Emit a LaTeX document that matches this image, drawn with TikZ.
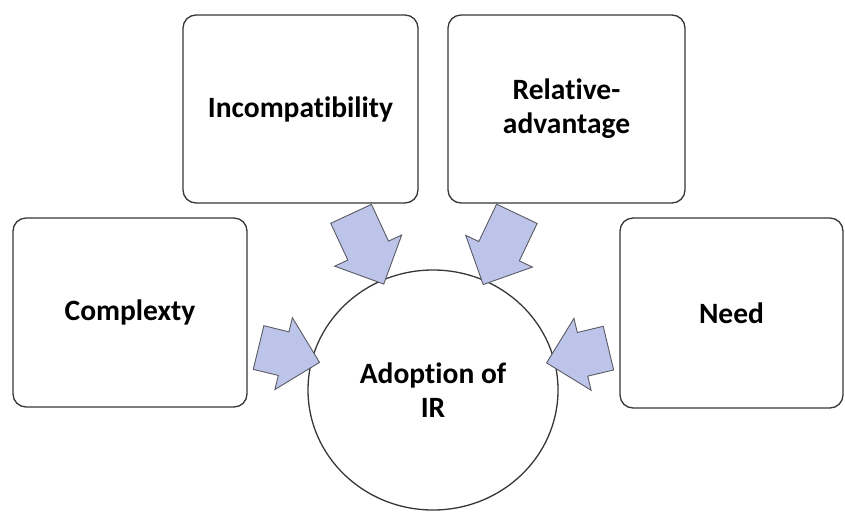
\documentclass[tikz,border=0pt]{standalone}
\usepackage{fontspec}
\setmainfont{Carlito}[Ligatures=NoCommon]
\usetikzlibrary{calc,shapes.arrows,shapes.geometric}
\definecolor{arrowfill}{RGB}{188,197,233}
\definecolor{arrowline}{RGB}{90,90,100}
\definecolor{boxline}{RGB}{55,55,55}
\begin{document}
\begin{tikzpicture}[x=1pt,y=-1pt,
  factor/.style={draw=boxline, line width=1.3pt, rounded corners=13pt, fill=white,
    font=\bfseries\fontsize{29.5}{34}\selectfont, align=center, inner sep=0pt},
  goal/.style={ellipse, draw=boxline, line width=1.3pt, fill=white,
    font=\bfseries\fontsize{29.5}{34}\selectfont, align=center, inner sep=0pt,
    minimum width=250pt, minimum height=240pt},
  blockarrow/.style={single arrow, draw=arrowline, fill=arrowfill, line width=0.9pt,
    minimum width=0pt, single arrow head extend=14.5pt, single arrow head indent=0pt,
    inner xsep=0pt, inner ysep=22pt, outer sep=0pt}]
\useasboundingbox (0,0) rectangle (845,512);
\node[factor, minimum width=234pt, minimum height=189pt] (cpx) at (130,312.5) {Complexty};
\node[factor, minimum width=235pt, minimum height=188pt] (inc) at (300.5,109) {Incompatibility};
\node[factor, minimum width=237pt, minimum height=188pt] (rel) at (566.5,109) {Relative-\\advantage};
\node[factor, minimum width=223pt, minimum height=190pt] (need) at (731.5,313) {Need};
\node[goal] (adopt) at (433,390) {Adoption of\\IR};
\coordinate (sInc) at ($(inc.south west)!0.694!(inc.south east)$);
\coordinate (sRel) at ($(rel.south west)!0.312!(rel.south east)$);
\coordinate (sCpx) at ($(cpx.north east)!0.67!(cpx.south east)$);
\coordinate (sNeed) at ($(need.north west)!0.67!(need.south west)$);
\foreach \s in {sInc,sRel,sCpx,sNeed}{
  \coordinate (t\s) at ($(adopt.center)!128pt!(\s)$);
  \path let \p1=(\s), \p2=(t\s), \n1={atan2(\y2-\y1,\x2-\x1)}, \n2={veclen(\x2-\x1,\y2-\y1)} in
    node[blockarrow, minimum height=\n2, rotate=\n1] at ($(\s)!0.5!(t\s)$) {};
}
\end{tikzpicture}
\end{document}
